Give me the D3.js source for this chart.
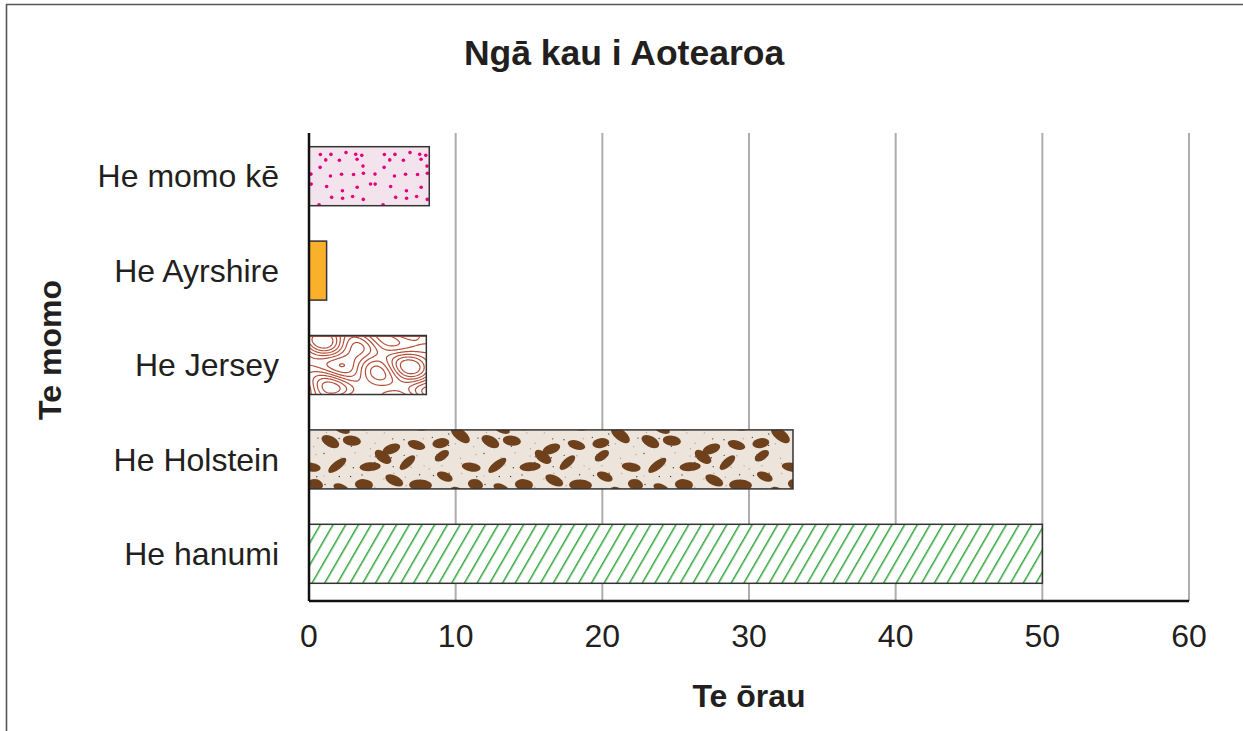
<!DOCTYPE html>
<html>
<head>
<meta charset="utf-8">
<script src="https://cdn.jsdelivr.net/npm/d3@7"></script>
<style>
  body { margin: 0; background: #fff; }
  text { font-family: "Liberation Sans", Arial, sans-serif; fill: #231f20; }
</style>
</head>
<body>
<svg id="chart" width="1243" height="731"></svg>
<script>
// data
const categories = ['He momo kē', 'He Ayrshire', 'He Jersey', 'He Holstein', 'He hanumi']
const values = [8.2, 1.2, 8, 33, 50]
const fills = ['url(#dots)', '#fbb02b', 'url(#topo)', 'url(#spots)', 'url(#hatch)']
const xTicks = [0, 10, 20, 30, 40, 50, 60]

const chartTitle = 'Ngā kau i Aotearoa'
const xTitle = 'Te ōrau'
const yTitle = 'Te momo'

const svg = d3.select('#chart')
const W = +svg.attr('width'), H = +svg.attr('height')
const plotTop = 133, plotBottom = 601

const x = d3.scaleLinear().domain([0, 60]).range([309, 1189])
const y = d3.scaleBand().domain(categories).range([129, 601])
    .paddingInner(0.375).paddingOuter(0.1875)

// frame
svg.append('path')
    .attr('d', `M6.5,${H} V4.5 H${W}`)
    .attr('fill', 'none')
    .attr('stroke', '#555')
    .attr('stroke-width', 1.6)

// --- patterns (texture only) ---
const defs = svg.append('defs')

// jittered grid of points inside a tile
function scatter(rnd, cols, rows, w, h) {
    const pts = []
    for (let r = 0; r < rows; r++)
        for (let c = 0; c < cols; c++)
            pts.push([(c + 0.1 + rnd() * 0.8) * w / cols, (r + 0.1 + rnd() * 0.8) * h / rows])
    return pts
}

// pink dots
const rndA = d3.randomLcg(0.31)
const pd = defs.append('pattern').attr('id', 'dots')
    .attr('patternUnits', 'userSpaceOnUse').attr('width', 64).attr('height', 60)
    .attr('patternTransform', 'translate(309,146)')
pd.append('rect').attr('width', 64).attr('height', 60).attr('fill', '#f3e3ec')
scatter(rndA, 5, 5, 64, 60).forEach(p => {
    pd.append('circle')
        .attr('cx', p[0]).attr('cy', p[1])
        .attr('r', 1.8).attr('fill', '#e5007d')
})

// brown spots
const rndB = d3.randomLcg(0.57)
const ps = defs.append('pattern').attr('id', 'spots')
    .attr('patternUnits', 'userSpaceOnUse').attr('width', 160).attr('height', 60)
    .attr('patternTransform', 'translate(0,431)')
ps.append('rect').attr('width', 160).attr('height', 60).attr('fill', '#ede5dc')
scatter(rndB, 12, 6, 160, 60).forEach(p => {
    ps.append('circle')
        .attr('cx', p[0]).attr('cy', p[1])
        .attr('r', 0.7).attr('fill', rndB() < 0.5 ? '#444' : '#b0a6a0')
})
scatter(rndB, 6, 3, 160, 60).forEach(p => {
    const rx = 7.5 + rndB() * 4, ry = 4 + rndB() * 1.6, a = -45 + rndB() * 90
    ;[-160, 0, 160].forEach(dx => [-60, 0, 60].forEach(dy => {
        ps.append('ellipse')
            .attr('transform', `translate(${p[0] + dx},${p[1] + dy}) rotate(${a})`)
            .attr('rx', rx).attr('ry', ry).attr('fill', '#6e411c')
    }))
})

// topographic lines
const tw = 120, th = 60
const field = []
for (let j = 0; j < th; j++)
    for (let i = 0; i < tw; i++)
        field.push(Math.sin(i / 9) + Math.cos(j / 8) + 0.9 * Math.sin((i + 1.5 * j) / 14) + 0.8 * Math.cos((i - 2 * j) / 12))
const contours = d3.contours().size([tw, th]).thresholds(d3.range(-2.4, 2.5, 0.8))(field)
const pt = defs.append('pattern').attr('id', 'topo')
    .attr('patternUnits', 'userSpaceOnUse').attr('width', tw).attr('height', th)
    .attr('patternTransform', 'translate(309,336)')
pt.append('rect').attr('width', tw).attr('height', th).attr('fill', '#fff')
pt.selectAll('path').data(contours).join('path')
    .attr('d', d3.geoPath())
    .attr('fill', 'none')
    .attr('stroke', '#b4503a')
    .attr('stroke-width', 1.2)

// green hatch
const ph = defs.append('pattern').attr('id', 'hatch')
    .attr('patternUnits', 'userSpaceOnUse').attr('width', 11).attr('height', 11)
    .attr('patternTransform', 'rotate(30)')
ph.append('rect').attr('width', 11).attr('height', 11).attr('fill', '#fff')
ph.append('line').attr('x1', 0.75).attr('y1', 0).attr('x2', 0.75).attr('y2', 11)
    .attr('stroke', '#2fa53a').attr('stroke-width', 1.5)

// grid
svg.append('g')
    .selectAll('line')
    .data(xTicks.slice(1))
    .join('line')
    .attr('x1', d => x(d)).attr('x2', d => x(d))
    .attr('y1', plotTop).attr('y2', plotBottom)
    .attr('stroke', '#adadb0').attr('stroke-width', 2)

// bars
svg.append('g')
    .selectAll('rect')
    .data(categories)
    .join('rect')
    .attr('x', x(0))
    .attr('y', d => y(d))
    .attr('width', (d, i) => x(values[i]) - x(0))
    .attr('height', y.bandwidth())
    .attr('fill', (d, i) => fills[i])
    .attr('stroke', '#333')
    .attr('stroke-width', 1.5)

// axes
svg.append('line')
    .attr('x1', x(0)).attr('x2', x(60))
    .attr('y1', plotBottom).attr('y2', plotBottom)
    .attr('stroke', '#111').attr('stroke-width', 2.5)
svg.append('line')
    .attr('x1', x(0)).attr('x2', x(0))
    .attr('y1', plotTop).attr('y2', plotBottom)
    .attr('stroke', '#111').attr('stroke-width', 2.5)

// tick labels
svg.append('g')
    .selectAll('text')
    .data(xTicks)
    .join('text')
    .attr('x', d => x(d))
    .attr('y', 647)
    .attr('text-anchor', 'middle')
    .attr('font-size', 32)
    .text(d => d)

svg.append('g')
    .selectAll('text')
    .data(categories)
    .join('text')
    .attr('x', 279)
    .attr('y', d => y(d) + y.bandwidth() / 2)
    .attr('dy', '0.35em')
    .attr('text-anchor', 'end')
    .attr('font-size', 32)
    .text(d => d)

// titles
svg.append('text')
    .attr('x', 624).attr('y', 65)
    .attr('text-anchor', 'middle')
    .attr('font-size', 35.5).attr('font-weight', 'bold')
    .text(chartTitle)

svg.append('text')
    .attr('x', 749).attr('y', 707)
    .attr('text-anchor', 'middle')
    .attr('font-size', 32).attr('font-weight', 'bold')
    .text(xTitle)

svg.append('text')
    .attr('transform', 'translate(61,350) rotate(-90)')
    .attr('text-anchor', 'middle')
    .attr('font-size', 32).attr('font-weight', 'bold')
    .text(yTitle)
</script>
</body>
</html>
